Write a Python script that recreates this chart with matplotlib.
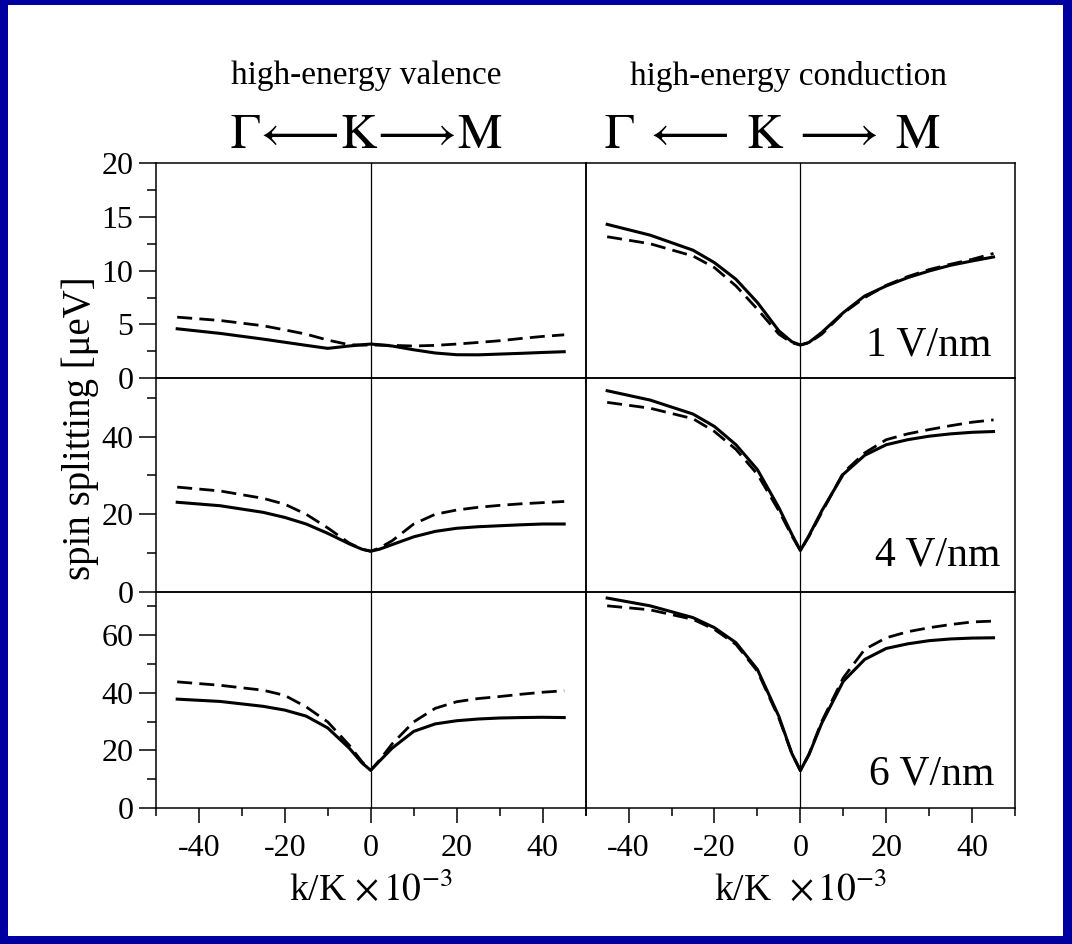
import matplotlib
matplotlib.use("Agg")
import matplotlib.pyplot as plt
from matplotlib.patches import Rectangle
from matplotlib.ticker import FixedLocator

plt.rcParams['font.family'] = ['Liberation Serif', 'DejaVu Serif']
plt.rcParams['mathtext.fontset'] = 'stix'
plt.rcParams['axes.unicode_minus'] = False

# ---------------- data ----------------
k = [-45, -35, -25, -20, -15, -10, -5, -2, 0, 2, 5, 10, 15, 20, 25, 30, 35, 40, 45]

val_1_solid = [4.6, 4.17, 3.64, 3.35, 3.06, 2.78, 3.0, 3.12, 3.18, 3.12, 3.0, 2.65, 2.35, 2.19, 2.18, 2.25, 2.32, 2.4, 2.47]
val_1_dash = [5.68, 5.37, 4.88, 4.5, 4.1, 3.55, 3.12, 3.08, 3.09, 3.08, 3.06, 3.0, 3.06, 3.18, 3.33, 3.49, 3.7, 3.89, 4.04]
con_1_solid = [14.3, 13.3, 11.9, 10.74, 9.2, 7.04, 4.41, 3.4, 3.09, 3.33, 4.26, 6.1, 7.65, 8.58, 9.35, 9.97, 10.5, 10.9, 11.27]
con_1_dash = [13.15, 12.5, 11.36, 10.28, 8.58, 6.42, 4.1, 3.3, 3.09, 3.3, 4.1, 6.05, 7.5, 8.64, 9.45, 10.1, 10.6, 11.05, 11.6]

val_4_solid = [23.1, 22.2, 20.5, 19.2, 17.5, 15.1, 12.4, 11.0, 10.5, 11.0, 12.2, 14.2, 15.6, 16.4, 16.8, 17.05, 17.3, 17.5, 17.5]
val_4_dash = [27.0, 26.0, 24.1, 22.6, 20.0, 16.5, 12.6, 11.0, 10.5, 11.3, 13.2, 17.5, 20.0, 21.1, 21.8, 22.3, 22.7, 23.0, 23.3]
con_4_solid = [51.8, 49.4, 45.8, 42.6, 37.9, 31.5, 21.7, 14.9, 10.66, 14.5, 20.9, 30.3, 35.2, 37.9, 39.2, 40.1, 40.7, 41.1, 41.3]
con_4_dash = [48.8, 47.3, 44.6, 41.3, 36.7, 30.3, 20.9, 14.5, 10.66, 14.3, 20.5, 30.7, 35.8, 39.2, 40.7, 41.8, 42.8, 43.7, 44.3]

val_6_solid = [37.8, 37.0, 35.3, 34.0, 31.9, 27.8, 20.8, 15.6, 13.1, 16.2, 20.8, 26.6, 29.2, 30.3, 30.9, 31.25, 31.4, 31.5, 31.4]
val_6_dash = [43.8, 42.6, 40.9, 39.1, 35.1, 29.9, 21.8, 16.0, 13.1, 16.5, 22.3, 29.9, 34.6, 36.9, 38.0, 38.7, 39.5, 40.2, 40.7]
con_6_solid = [72.9, 70.2, 66.1, 62.6, 57.4, 48.1, 31.8, 19.0, 13.0, 18.5, 29.5, 44.0, 51.6, 55.4, 57.0, 58.1, 58.7, 59.0, 59.1]
con_6_dash = [70.2, 68.8, 65.5, 62.0, 56.8, 47.5, 31.2, 19.0, 13.0, 18.7, 30.1, 45.2, 55.1, 59.1, 61.2, 62.6, 63.7, 64.6, 64.9]

field_labels = ["1 V/nm", "4 V/nm", "6 V/nm"]
row_ylims = [20, 55, 75]
row_major = [[0, 5, 10, 15, 20], [0, 20, 40], [0, 20, 40, 60]]
row_minor = [[2.5, 7.5, 12.5, 17.5], [10, 30, 50], [10, 30, 50, 70]]
x_major = [-40, -20, 0, 20, 40]
x_minor = [-50, -30, -10, 10, 30, 50]

valence = [(val_1_solid, val_1_dash), (val_4_solid, val_4_dash), (val_6_solid, val_6_dash)]
conduction = [(con_1_solid, con_1_dash), (con_4_solid, con_4_dash), (con_6_solid, con_6_dash)]

# ---------------- figure ----------------
W, H = 1072, 944
fig = plt.figure(figsize=(W / 100, H / 100), dpi=100, facecolor='white')
for (x0, y0, w, h) in [(0, 0, 8, H), (1063, 0, W - 1063, H), (0, 0, W, 8), (0, H - 5, W, 5)]:
    fig.patches.append(Rectangle((x0 / W, y0 / H), w / W, h / H,
                                 transform=fig.transFigure, facecolor='#0000A0',
                                 edgecolor='none', zorder=-5))

col_left = [155.7, 585.7]
col_width = [430.0, 429.3]
row_top = [163.0, 378.3, 592.0]
row_bot = [378.3, 592.0, 808.0]

label_pos = [(0.946, 0.105), (0.965, 0.122), (0.953, 0.111)]
dash_style = (0, (5.4, 2.6))

for r in range(3):
    for c in range(2):
        ax = fig.add_axes([col_left[c] / W, 1 - row_bot[r] / H,
                           col_width[c] / W, (row_bot[r] - row_top[r]) / H])
        ax.set_facecolor('none')
        ax.set_xlim(-50, 50)
        ax.set_ylim(0, row_ylims[r])
        for sp in ax.spines.values():
            sp.set_linewidth(1.1)
        ax.axvline(0, color='black', lw=0.9, zorder=1)
        series = valence[r] if c == 0 else conduction[r]
        ax.plot(k, series[0], color='black', lw=2.2, zorder=3)
        ax.plot(k, series[1], color='black', lw=2.0, linestyle=dash_style, zorder=3)

        if c == 0:
            ax.yaxis.set_major_locator(FixedLocator(row_major[r]))
            ax.yaxis.set_minor_locator(FixedLocator(row_minor[r]))
            ax.tick_params(axis='y', which='major', direction='out', length=12,
                           width=1.1, labelsize=23, pad=4)
            ax.tick_params(axis='y', which='minor', direction='out', length=6.5, width=1.1)
        else:
            ax.set_yticks([])
            ax.yaxis.set_minor_locator(FixedLocator([]))
        if r == 2:
            ax.xaxis.set_major_locator(FixedLocator(x_major))
            ax.xaxis.set_minor_locator(FixedLocator(x_minor))
            ax.tick_params(axis='x', which='major', direction='out', length=11,
                           width=1.1, labelsize=23, pad=8)
            ax.tick_params(axis='x', which='minor', direction='out', length=6, width=1.1)
            xl = r'k/K $\times\,10^{-3}$' if c == 0 else r'k/K  $\times\,10^{-3}$'
            ax.set_xlabel(xl, fontsize=27, labelpad=6)
        else:
            ax.set_xticks([])
            ax.xaxis.set_minor_locator(FixedLocator([]))
        if c == 1:
            ax.text(label_pos[r][0], label_pos[r][1], field_labels[r],
                    transform=ax.transAxes, ha='right', va='baseline', fontsize=30)

fig.text(366 / W, 1 - 76 / H, 'high-energy valence', ha='center', va='center', fontsize=24)
fig.text(789 / W, 1 - 76 / H, 'high-energy conduction', ha='center', va='center', fontsize=24)
fig.text(366 / W, 1 - 136 / H, r'$\Gamma\!\longleftarrow\!\mathrm{K}\!\longrightarrow\!\mathrm{M}$',
         ha='center', va='center', fontsize=36)
fig.text(773 / W, 1 - 136 / H, r'$\Gamma\; \longleftarrow\; \mathrm{K}\; \longrightarrow\; \mathrm{M}$',
         ha='center', va='center', fontsize=36)
fig.text(80 / W, 1 - 428 / H, 'spin splitting [μeV]', rotation=90,
         ha='center', va='center', fontsize=28)

fig.savefig('out.png', dpi=100, facecolor=fig.get_facecolor())
